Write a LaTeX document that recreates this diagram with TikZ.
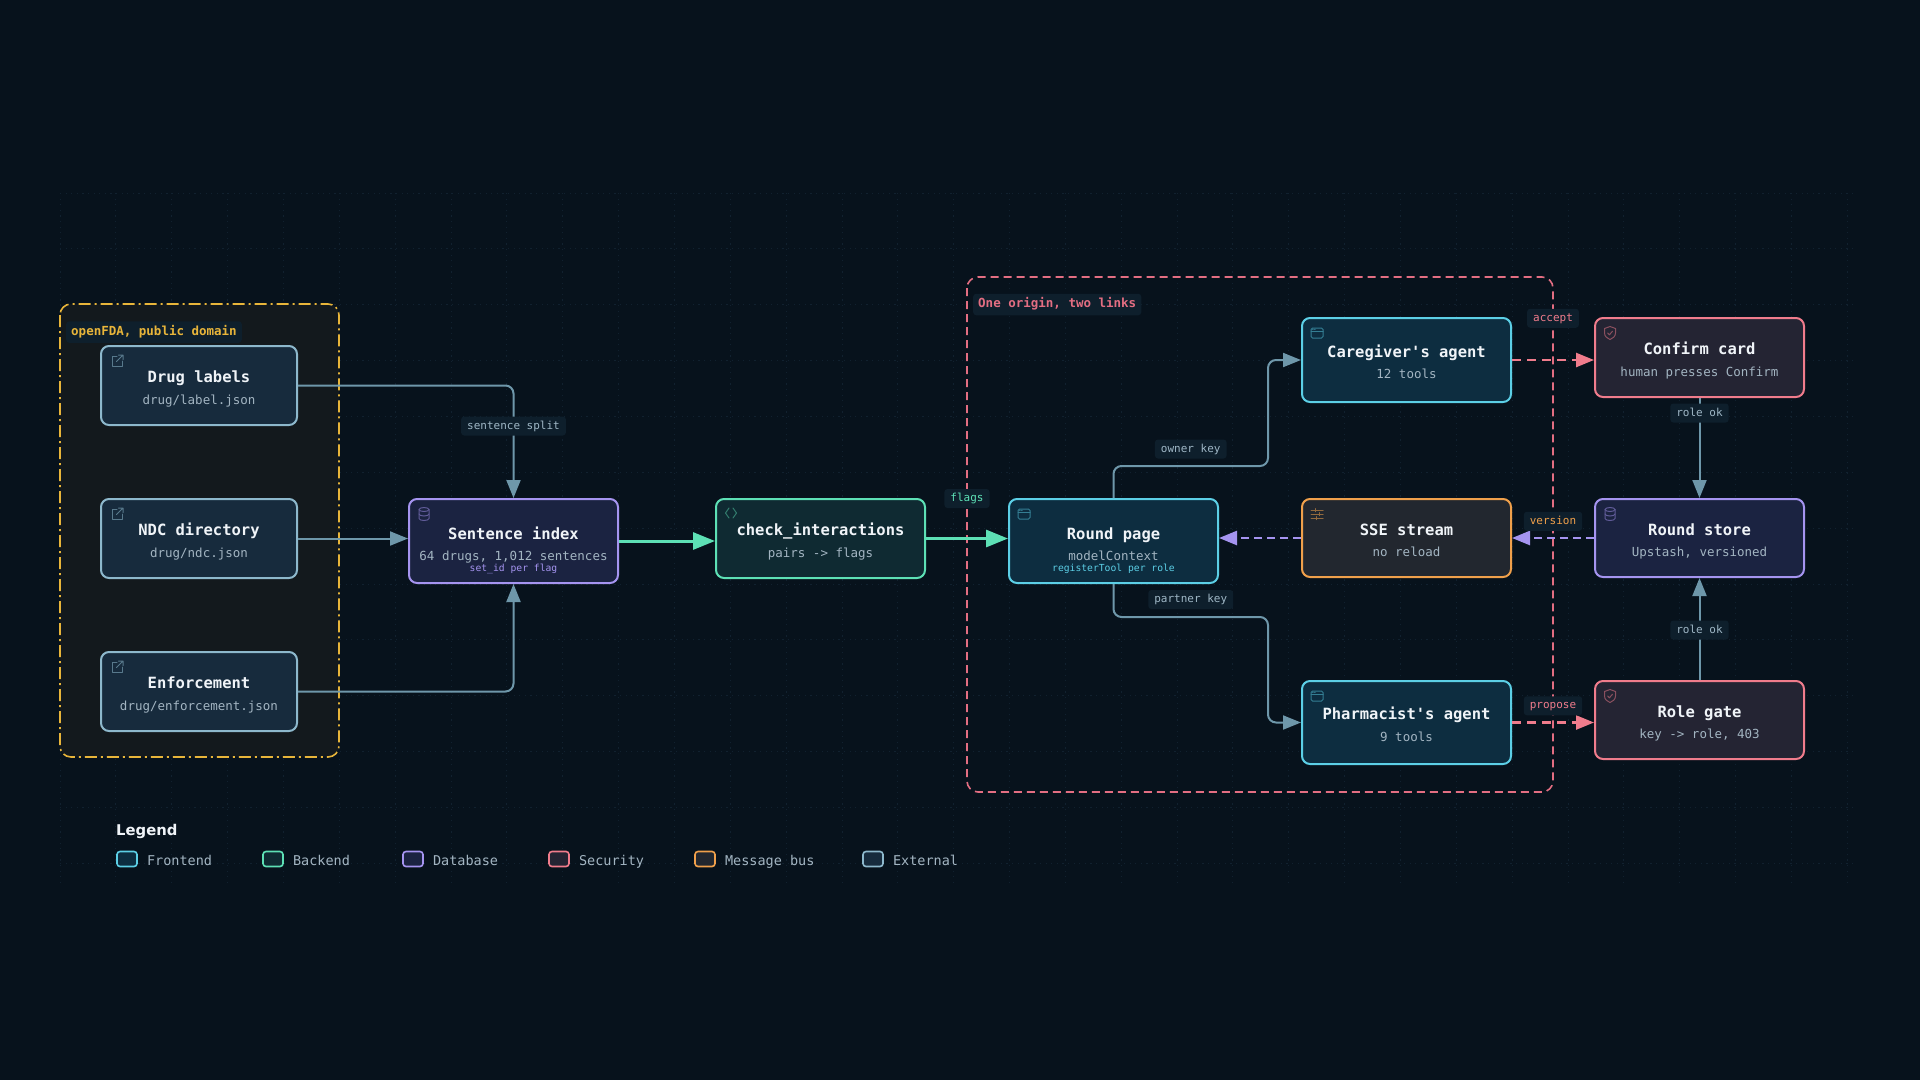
\documentclass[tikz,border=0pt]{standalone}
\usepackage{fontspec}
\setmainfont{DejaVu Sans}
\setsansfont{DejaVu Sans}
\setmonofont{DejaVu Sans Mono}
\usepackage{xcolor}
\definecolor{bgNavy}{HTML}{07121C}
\definecolor{gridLine}{HTML}{11212F}
\definecolor{feLine}{HTML}{5CCFE6}
\definecolor{feFill}{HTML}{0D2D40}
\definecolor{beLine}{HTML}{5DE0B5}
\definecolor{beFill}{HTML}{0F2A32}
\definecolor{dbLine}{HTML}{A594F0}
\definecolor{dbFill}{HTML}{1B2341}
\definecolor{secLine}{HTML}{F07C8C}
\definecolor{secFill}{HTML}{242433}
\definecolor{busLine}{HTML}{F0A04B}
\definecolor{busFill}{HTML}{22272F}
\definecolor{extLine}{HTML}{8DB8CC}
\definecolor{extFill}{HTML}{172B3D}
\definecolor{edgeGrey}{HTML}{6E97AA}
\definecolor{lblFill}{HTML}{0E1F2C}
\definecolor{lblText}{HTML}{9FB7C6}
\definecolor{subText}{HTML}{A3B5C2}
\definecolor{titleText}{HTML}{F0F4F8}
\definecolor{openYellow}{HTML}{E8B53A}
\definecolor{openFill}{HTML}{13191D}
\definecolor{originPink}{HTML}{E36E82}
\usepackage{tikz}
\usetikzlibrary{positioning,arrows.meta,backgrounds}

\newcommand{\cardtitle}[2][18.7pt]{{\fontsize{15.5}{21.3}\selectfont\bfseries\color{titleText}\rule{0pt}{#1}#2}}
\newcommand{\cardsub}[1]{{\color{subText}\rule[-3pt]{0pt}{3pt}#1}}
\newcommand{\cardnote}[2]{{\fontsize{9.7}{11}\selectfont\color{#1}\rule[-2.5pt]{0pt}{2.5pt}#2}}

\tikzset{
  card/.style={rounded corners=8pt, line width=2pt, minimum width=209pt, minimum height=79pt,
    align=center, inner sep=0pt, font=\fontsize{12.5}{21.3}\selectfont\ttfamily},
  febox/.style={card, draw=feLine, fill=feFill},
  bebox/.style={card, draw=beLine, fill=beFill},
  dbbox/.style={card, draw=dbLine, fill=dbFill},
  secbox/.style={card, draw=secLine, fill=secFill},
  busbox/.style={card, draw=busLine, fill=busFill},
  extbox/.style={card, draw=extLine, fill=extFill, minimum width=196pt},
  link/.style={draw=edgeGrey, line width=2pt, rounded corners=8pt, -{Triangle[length=18pt,width=14pt]}},
  flow/.style={draw=beLine, line width=3pt, -{Triangle[length=22pt,width=17pt]}},
  pushlink/.style={draw=dbLine, line width=2.5pt, dash pattern=on 8pt off 5pt, -{Triangle[length=18pt,width=14pt]}},
  gatelink/.style={draw=secLine, line width=2.5pt, dash pattern=on 9pt off 6pt, -{Triangle[length=18pt,width=14pt]}},
  elabel/.style={fill=lblFill, rounded corners=3pt, inner xsep=6pt, inner ysep=4pt, text height=8.5pt,
    text depth=2.5pt, font=\fontsize{11}{13}\selectfont\ttfamily, text=lblText},
  grouptag/.style={anchor=west, fill=lblFill, rounded corners=3pt, inner xsep=5pt, inner ysep=4.5pt,
    text height=9.5pt, text depth=3pt, font=\fontsize{12.5}{15}\selectfont\ttfamily\bfseries},
  swatch/.style={rounded corners=3pt, line width=1.6pt, minimum width=20pt, minimum height=15pt, inner sep=0pt},
  legtext/.style={inner sep=0pt, text height=13pt, text depth=1pt, text=subText, font=\fontsize{13.5}{16}\selectfont\ttfamily},
  gridline/.style={draw=gridLine, line width=0.8pt, dash pattern=on 1.2pt off 4.4pt},
  icon/.style={line width=1pt, line cap=round, line join=round},
  winicon/.pic={
    \draw[pic actions, rounded corners=1.5pt] (-6,-5) rectangle (6,5);
    \draw[pic actions] (-6,-2) -- (6,-2);
    \draw[pic actions] (-4.3,-3.6) -- (-4,-3.6) (-2.3,-3.6) -- (-2,-3.6);
  },
  dbicon/.pic={
    \draw[pic actions] (0,-4.5) ellipse (5 and 2);
    \draw[pic actions] (-5,-4.5) -- (-5,4.5) arc[start angle=180, end angle=0, x radius=5, y radius=2] -- (5,-4.5);
    \draw[pic actions] (-5,0) arc[start angle=180, end angle=0, x radius=5, y radius=2];
  },
  extlink/.pic={
    \draw[pic actions] (0,-5) -- (-5,-5) -- (-5,5) -- (5,5) -- (5,0);
    \draw[pic actions] (-0.5,0.5) -- (6,-6) (1.5,-6) -- (6,-6) -- (6,-1.5);
  },
  codeicon/.pic={
    \draw[pic actions] (-2,-5) -- (-5.5,0) -- (-2,5);
    \draw[pic actions] (2,-5) -- (5.5,0) -- (2,5);
  },
  sliders/.pic={
    \draw[pic actions] (-6,-4) -- (6,-4) (-6,0) -- (6,0) (-6,4) -- (6,4);
    \draw[pic actions] (-2,-5.5) -- (-2,-2.5) (2.5,-1.5) -- (2.5,1.5) (-0.5,2.5) -- (-0.5,5.5);
  },
  shield/.pic={
    \draw[pic actions] (0,-6.5) -- (5.5,-4.5) -- (5.5,0) .. controls (5.5,3.5) and (2.5,5.5) .. (0,6.5)
      .. controls (-2.5,5.5) and (-5.5,3.5) .. (-5.5,0) -- (-5.5,-4.5) -- cycle;
    \draw[pic actions] (-2.3,0) -- (-0.6,1.8) -- (2.5,-1.8);
  }
}

\begin{document}
\begin{tikzpicture}[x=1pt, y=-1pt]
\useasboundingbox (0,0) rectangle (1920,1080);
\begin{scope}[on background layer]
\fill[bgNavy] (0,0) rectangle (1920,1080);
\foreach \gx in {0,...,32} \draw[gridline] ({60+\gx*55.85},193) -- ({60+\gx*55.85},885);
\foreach \gy in {0,...,12} \draw[gridline] (60,{193+\gy*55.85}) -- (1857,{193+\gy*55.85});
\end{scope}

% groups
\draw[draw=openYellow, fill=openFill, line width=1.6pt, rounded corners=11pt,
  dash pattern=on 12pt off 4pt on 2pt off 4pt] (60,304) rectangle (339,757);
\node[grouptag, text=openYellow] (srcTag) at (66,332) {openFDA, public domain};
\draw[draw=originPink, line width=1.6pt, rounded corners=11pt, dash pattern=on 8pt off 5pt]
  (967,277) rectangle (1553,792);
\node[grouptag, text=originPink] (originTag) at (973,304.5) {One origin, two links};

% openFDA sources
\node[extbox] (drugLabels) at (199,385.5) {\cardtitle{Drug labels}\\\cardsub{drug/label.json}};
\node[extbox] (ndcDir) at (199,538.5) {\cardtitle{NDC directory}\\\cardsub{drug/ndc.json}};
\node[extbox] (enforce) at (199,691.5) {\cardtitle{Enforcement}\\\cardsub{drug/enforcement.json}};

% pipeline
\node[dbbox, minimum height=84pt] (sentIdx) at (513.5,541)
  {\cardtitle[31pt]{Sentence index}\\\cardsub{64 drugs, 1,012 sentences}\\[-10.6pt]\cardnote{dbLine}{set\_id per flag}};
\node[bebox] (checkInt) at (820.5,538.5) {\cardtitle{check\_interactions}\\\cardsub{pairs -> flags}};
\node[febox, minimum height=84pt] (roundPage) at (1113.5,541)
  {\cardtitle[31pt]{Round page}\\\cardsub{modelContext}\\[-10.6pt]\cardnote{feLine}{registerTool per role}};

% agents and stream
\node[febox, minimum height=84pt] (careAgent) at (1406.5,360) {\cardtitle{Caregiver's agent}\\\cardsub{12 tools}};
\node[busbox, minimum height=78pt] (sseStream) at (1406.5,538) {\cardtitle{SSE stream}\\\cardsub{no reload}};
\node[febox, minimum height=83pt] (pharmAgent) at (1406.5,722.5) {\cardtitle{Pharmacist's agent}\\\cardsub{9 tools}};

% gate and store
\node[secbox] (confirmCard) at (1699.5,357.5) {\cardtitle{Confirm card}\\\cardsub{human presses Confirm}};
\node[dbbox, minimum height=78pt] (roundStore) at (1699.5,538) {\cardtitle{Round store}\\\cardsub{Upstash, versioned}};
\node[secbox, minimum height=78pt] (roleGate) at (1699.5,720) {\cardtitle{Role gate}\\\cardsub{key -> role, 403}};

% icons
\foreach \n in {drugLabels,ndcDir,enforce}
  \pic[icon, draw=extLine!55!extFill] at ([shift={(17,16)}]\n.north west) {extlink};
\foreach \n in {sentIdx,roundStore}
  \pic[icon, draw=dbLine!50!dbFill] at ([shift={(16,16)}]\n.north west) {dbicon};
\pic[icon, draw=beLine!45!beFill] at ([shift={(16,15)}]checkInt.north west) {codeicon};
\foreach \n in {roundPage,careAgent,pharmAgent}
  \pic[icon, draw=feLine!50!feFill] at ([shift={(16,16)}]\n.north west) {winicon};
\pic[icon, draw=busLine!55!busFill] at ([shift={(16,16)}]sseStream.north west) {sliders};
\foreach \n in {confirmCard,roleGate}
  \pic[icon, draw=secLine!50!secFill] at ([shift={(16,16)}]\n.north west) {shield};

% connectors
\coordinate (ownerBend) at (1268,466);
\coordinate (partnerBend) at (1268,617);
\draw[link] (drugLabels.east) -| node[elabel, pos=0.68] {sentence split} (sentIdx.north);
\draw[link] (ndcDir.east) -- (ndcDir.east -| sentIdx.west);
\draw[link] (enforce.east) -| (sentIdx.south);
\draw[flow] (sentIdx.east) -- (sentIdx.east -| checkInt.west);
\draw[flow] (checkInt.east) -- node[elabel, text=beLine, above=29pt] {flags} (checkInt.east -| roundPage.west);
\draw[link] (roundPage.north) |- node[elabel, pos=0.75, above=6.5pt] {owner key} (ownerBend) |- (careAgent.west);
\draw[link] (roundPage.south) |- node[elabel, pos=0.75, above=7pt] {partner key} (partnerBend) |- (pharmAgent.west);
\draw[pushlink] (sseStream.west) -- (sseStream.west -| roundPage.east);
\draw[pushlink] (roundStore.west) -- node[elabel, text=busLine, above=6pt] {version} (roundStore.west -| sseStream.east);
\draw[gatelink] (careAgent.east) -- node[elabel, text=secLine, above=31pt] {accept} (careAgent.east -| confirmCard.west);
\draw[gatelink] (pharmAgent.east) -- node[elabel, text=secLine, above=6pt] {propose} (pharmAgent.east -| roleGate.west);
\draw[link] (confirmCard.south) -- node[elabel, pos=0.15] {role ok} (roundStore.north);
\draw[link] (roleGate.north) -- node[elabel, pos=0.49] {role ok} (roundStore.south);

% legend
\node[anchor=west, inner sep=0pt, text=titleText, font=\fontsize{14.8}{18}\selectfont\sffamily\bfseries] (legTitle) at (116,831) {Legend};
\node[swatch, draw=feLine, fill=feFill] (lgFe) at (127,859) {};
\node[legtext, right=9pt of lgFe] (lgFeTxt) {Frontend};
\node[swatch, draw=beLine, fill=beFill] (lgBe) at (273,859) {};
\node[legtext, right=9pt of lgBe] (lgBeTxt) {Backend};
\node[swatch, draw=dbLine, fill=dbFill] (lgDb) at (413,859) {};
\node[legtext, right=9pt of lgDb] (lgDbTxt) {Database};
\node[swatch, draw=secLine, fill=secFill] (lgSec) at (559,859) {};
\node[legtext, right=9pt of lgSec] (lgSecTxt) {Security};
\node[swatch, draw=busLine, fill=busFill] (lgBus) at (705,859) {};
\node[legtext, right=9pt of lgBus] (lgBusTxt) {Message bus};
\node[swatch, draw=extLine, fill=extFill] (lgExt) at (873,859) {};
\node[legtext, right=9pt of lgExt] (lgExtTxt) {External};
\end{tikzpicture}
\end{document}
